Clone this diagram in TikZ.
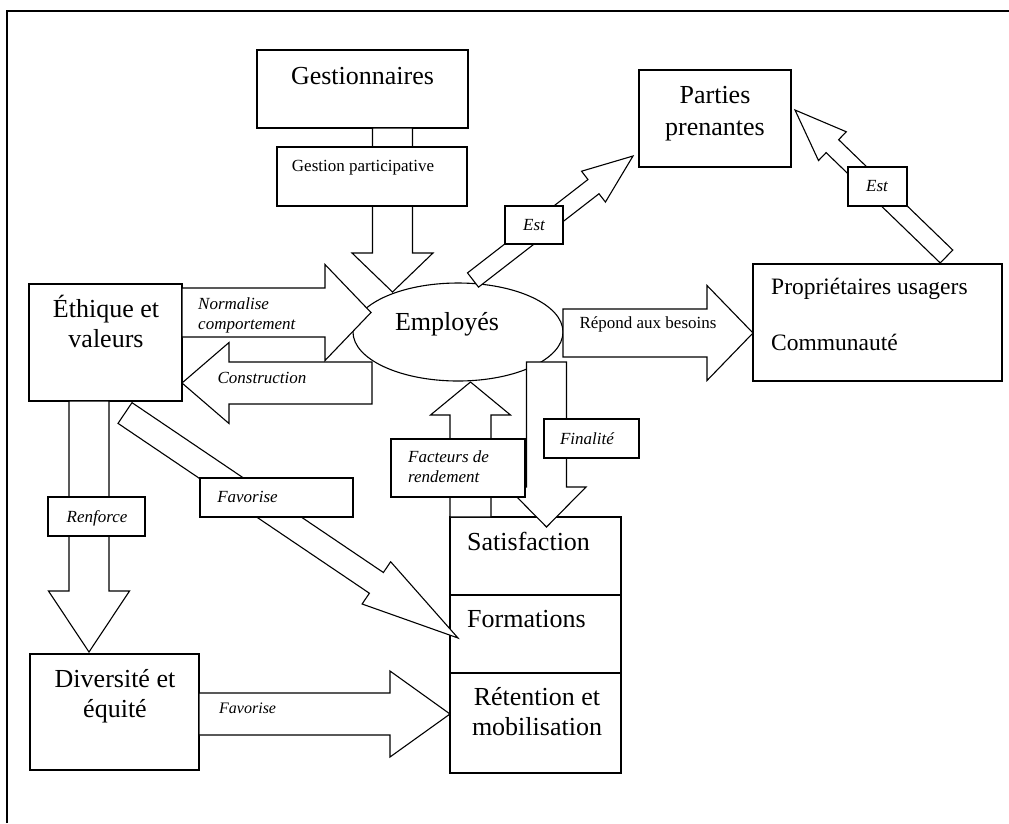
\documentclass[tikz,border=0pt]{standalone}
\usepackage{fontspec}
\setmainfont{Liberation Serif}
\usetikzlibrary{calc,shapes.geometric}
\tikzset{
  ln/.style={line width=1.1pt, draw=black},
  box/.style={ln, fill=white, rectangle, inner sep=0pt, anchor=center},
  big/.style={font=\fontsize{26}{30}\selectfont, inner sep=0pt},
  mid/.style={font=\fontsize{23.5}{28}\selectfont, inner sep=0pt},
  small/.style={font=\fontsize{17}{19}\selectfont, inner sep=0pt},
  lab/.style={font=\fontsize{17}{19.5}\selectfont\itshape, inner sep=0pt},
  barr/.style={ln, fill=white, line join=miter},
}
% #1 start, #2 tip, #3 half shaft width, #4 half head width, #5 head length, #6 name
\newcommand\blockarrow[6]{%
  \coordinate (#6-hb) at ($(#2)!#5pt!(#1)$);
  \draw[barr] ($(#1)!#3pt!90:(#2)$) -- ($(#6-hb)!#3pt!90:(#2)$)
    -- ($(#6-hb)!#4pt!90:(#2)$) -- (#2) -- ($(#6-hb)!#4pt!-90:(#2)$)
    -- ($(#6-hb)!#3pt!-90:(#2)$) -- ($(#1)!#3pt!-90:(#2)$) -- cycle;}
\begin{document}
\begin{tikzpicture}[x=1pt,y=-1pt]
\useasboundingbox (0,0) rectangle (1009,823);
% page frame
\draw[line width=1.4pt] (7,823) -- (7,11) -- (1009,11);

% main boxes
\node[box, minimum width=211pt, minimum height=78pt] (gest) at (362.5,89) {};
\node[box, minimum width=152pt, minimum height=97pt] (pp) at (715,118.5) {};
\node[box, minimum width=153pt, minimum height=117pt] (eth) at (105.5,342.5) {};
\node[box, minimum width=249pt, minimum height=117pt] (prop) at (877.5,322.5) {};
\node[box, minimum width=169pt, minimum height=116pt] (div) at (114.5,712) {};
\node[box, minimum width=171pt, minimum height=78pt] (sat) at (535.5,556) {};
\node[box, minimum width=171pt, minimum height=78pt] (form) at (535.5,634) {};
\node[box, minimum width=171pt, minimum height=100pt] (ret) at (535.5,723) {};
\node[ln, ellipse, fill=white, minimum width=210pt, minimum height=98pt, inner sep=0pt] (emp) at (458,332) {};

% arrow end points
\coordinate (a-s) at (392.5,128);  \coordinate (a-t) at (392.5,292);
\coordinate (b-s) at (473,280);    \coordinate (b-t) at (633,156);
\coordinate (c-s) at (946.5,256.5);\coordinate (c-t) at (795,110);
\coordinate (d-s) at (182,312.5);  \coordinate (d-t) at (371,312.5);
\coordinate (e-s) at (372,383);    \coordinate (e-t) at (182,383);
\coordinate (f-s) at (563,333);    \coordinate (f-t) at (753,333);
\coordinate (g-s) at (89,401);     \coordinate (g-t) at (89,652);
\coordinate (h-s) at (125,413);    \coordinate (h-t) at (458,638);
\coordinate (i-s) at (470.5,517);  \coordinate (i-t) at (470.5,382);
\coordinate (j-s) at (546.5,362);  \coordinate (j-t) at (546.5,527);
\coordinate (k-s) at (199,714);    \coordinate (k-t) at (450,714);

\blockarrow{a-s}{a-t}{20}{40.5}{39}{aa}
\blockarrow{b-s}{b-t}{9}{19.5}{50}{bb}
\blockarrow{c-s}{c-t}{9}{20}{52}{cc}
\blockarrow{d-s}{d-t}{24.5}{48}{46}{dd}
\blockarrow{e-s}{e-t}{21}{40.5}{47}{ee}
\blockarrow{f-s}{f-t}{24}{47.5}{46}{ff}
\blockarrow{g-s}{g-t}{20}{40.5}{61}{gg}
\blockarrow{h-s}{h-t}{12.5}{25.5}{98.5}{hh}
\blockarrow{i-s}{i-t}{20.5}{40}{33}{ii}
\blockarrow{j-s}{j-t}{20}{39.5}{40}{jj}
\blockarrow{k-s}{k-t}{21}{43}{60}{kk}

% label boxes on arrows
\node[box, minimum width=190pt, minimum height=59pt] (gp) at (372,176.5) {};
\node[box, minimum width=58pt, minimum height=38pt] (est1) at (534,225) {};
\node[box, minimum width=59pt, minimum height=39pt] (est2) at (877.5,186.5) {};
\node[box, minimum width=97pt, minimum height=39pt] (renf) at (96.5,516.5) {};
\node[box, minimum width=153pt, minimum height=39pt] (fav1) at (276.5,497.5) {};
\node[box, minimum width=134pt, minimum height=58pt] (fact) at (458,468) {};
\node[box, minimum width=95pt, minimum height=39pt] (fin) at (591.5,438.5) {};

% texts (for multi-line nodes the base anchor is the last line's baseline)
\node[big, anchor=base] (gest-t) at (362.5,84) {Gestionnaires};
\node[small, anchor=base] (gp-t) at (363,171.7) {Gestion participative};
\node[big, anchor=base, align=center, font=\fontsize{26}{32}\selectfont] (pp-t) at (715,135) {Parties\\prenantes};
\node[big, anchor=base, align=center] (eth-t) at (106,347) {Éthique et\\valeurs};
\node[big, anchor=base] (emp-t) at (447,330) {Employés};
\node[mid, anchor=base west] (prop-t1) at (771,294) {Propriétaires usagers};
\node[mid, anchor=base west] (prop-t2) at (771,350) {Communauté};
\node[small, anchor=base] (f-t) at (648,328) {Répond aux besoins};
\node[lab, anchor=base west, align=left] (d-t) at (198,329) {Normalise\\comportement};
\node[lab, anchor=base] (e-t) at (262,383) {Construction};
\node[lab, anchor=base] (est1-t) at (534,230) {Est};
\node[lab, anchor=base] (est2-t) at (877,191) {Est};
\node[lab, anchor=base] (renf-t) at (97,522) {Renforce};
\node[lab, anchor=base] (fav1-t) at (247.5,502) {Favorise};
\node[lab, anchor=base west, align=left] (fact-t) at (408,482) {Facteurs de\\rendement};
\node[lab, anchor=base] (fin-t) at (587,444) {Finalité};
\node[big, anchor=base west] (sat-t) at (467,550) {Satisfaction};
\node[big, anchor=base west] (form-t) at (467,627) {Formations};
\node[big, anchor=base, align=center] (ret-t) at (537,735) {Rétention et\\mobilisation};
\node[big, anchor=base, align=center] (div-t) at (115,717) {Diversité et\\équité};
\node[lab, anchor=base west, font=\fontsize{16}{18}\selectfont\itshape] (k-t) at (219,713) {Favorise};
\end{tikzpicture}
\end{document}
